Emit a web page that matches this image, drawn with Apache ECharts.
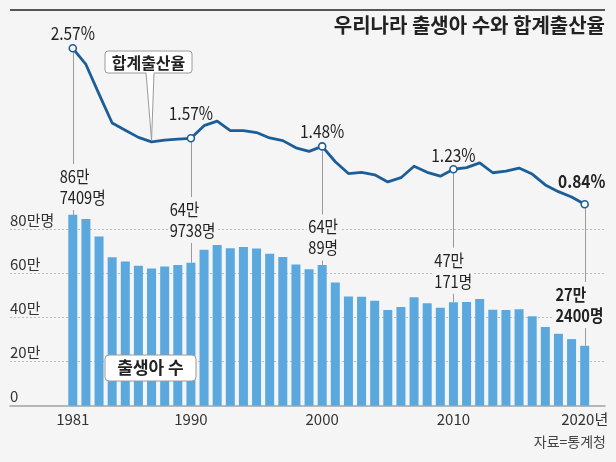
<!DOCTYPE html>
<html>
<head>
<meta charset="utf-8">
<script src="https://cdn.jsdelivr.net/npm/echarts@6/dist/echarts.min.js"></script>
<style>
html,body{margin:0;padding:0;background:#f5f5f5;}
#c{width:616px;height:462px;}
</style>
</head>
<body>
<div id="c"></div>
<script>
// ---- data ----
const years = [1981,1982,1983,1984,1985,1986,1987,1988,1989,1990,
               1991,1992,1993,1994,1995,1996,1997,1998,1999,2000,
               2001,2002,2003,2004,2005,2006,2007,2008,2009,2010,
               2011,2012,2013,2014,2015,2016,2017,2018,2019,2020];
const births = [867409,848312,769155,674793,655489,636019,623831,633092,639431,649738,
                709275,730678,715826,721185,715020,691226,675394,641594,620668,640089,
                559934,496911,495036,476958,435031,448153,493189,465892,444849,470171,
                471265,484550,436455,435435,438420,406243,357771,326822,302676,272400];
const tfr = [2.57,2.39,2.06,1.74,1.66,1.58,1.53,1.55,1.56,1.57,
             1.71,1.76,1.654,1.656,1.634,1.574,1.544,1.464,1.425,1.48,
             1.309,1.178,1.191,1.164,1.085,1.132,1.259,1.192,1.149,1.226,
             1.244,1.297,1.187,1.205,1.239,1.172,1.052,0.977,0.918,0.837];
const xTickYears = [1981,1990,2000,2010,2020];
const yTickValues = [0,200000,400000,600000,800000];
const highlightYears = [1981,1990,2000,2010,2020];
const titleText = '우리나라 출생아 수와 합계출산율';
const sourceText = '자료=통계청';
const lineLegend = '합계출산율';
const barLegend = '출생아 수';
const pointerYear = 1987;

// ---- styles ----
const KR_FONT = "'Noto Sans CJK KR',sans-serif";
const BAR_COLOR = '#5aa8de';
const LINE_COLOR = '#1c5e98';
const BG = '#f5f5f5';
const NARROW = 0.86;
const tfrLabelStyle = {
  1981:{dy:-15, bold:false, dx:0},
  1990:{dy:-25, bold:false, dx:0},
  2000:{dy:-15, bold:false, dx:0},
  2010:{dy:-14, bold:false, dx:0},
  2020:{dy:-23, bold:true, dx:-3}
};
const countLabelStyle = {
  1981:{dx:-14.8, dy:-50.9, bold:false},
  1990:{dx:-23, dy:-65.8, bold:false},
  2000:{dx:-15.6, dy:-50.5, bold:false},
  2010:{dx:-20.8, dy:-54.5, bold:false},
  2020:{dx:-31, dy:-63.7, bold:true}
};

const chart = echarts.init(document.getElementById('c'), null, {renderer:'canvas'});

const barData = years.map((y,i)=>[y, births[i]]);
const lineData = years.map((y,i)=>({
  value:[y, tfr[i]],
  symbol: highlightYears.indexOf(y) >= 0 ? 'circle' : 'none'
}));

const splitColors = ['rgba(0,0,0,0)','#bdbdbd','#bdbdbd','#bdbdbd','#bdbdbd',
                     'rgba(0,0,0,0)','rgba(0,0,0,0)','rgba(0,0,0,0)','rgba(0,0,0,0)','rgba(0,0,0,0)'];

chart.setOption({
  backgroundColor: BG,
  animation:false,
  grid:{left:10, right:11, top:9.7, bottom:56.3, containLabel:false, outerBoundsMode:'none'},
  title:[{
    text:titleText, right:11, top:15, padding:0,
    textStyle:{fontFamily:KR_FONT, fontSize:20, fontWeight:'bold', color:'#222'}
  },{
    text:sourceText, right:10, top:435, padding:0,
    textStyle:{fontFamily:KR_FONT, fontSize:14, fontWeight:'normal', color:'#444'}
  }],
  xAxis:{
    type:'value', min:1976.216, max:2021.547,
    axisLine:{show:true, onZero:false, lineStyle:{color:'#a3a3a3', width:1.5}},
    axisTick:{show:false},
    splitLine:{show:false},
    axisLabel:{
      customValues:xTickYears, margin:6,
      formatter: v => (v === xTickYears[xTickYears.length-1] ? v + '년' : String(v)),
      fontFamily:KR_FONT, fontSize:15, color:'#333'
    }
  },
  yAxis:[{
    type:'value', min:0, max:1800000, interval:200000,
    axisLine:{show:false}, axisTick:{show:false},
    splitLine:{show:true, lineStyle:{color:splitColors, type:[2,2], width:1}},
    axisLabel:{
      customValues:yTickValues, inside:true, margin:0, verticalAlign:'bottom',
      padding:[0,0,2,0],
      formatter: v => v === 0 ? '0' : (v === yTickValues[yTickValues.length-1] ? (v/10000)+'만명' : (v/10000)+'만'),
      fontFamily:KR_FONT, fontSize:15, color:'#333'
    }
  },{
    type:'value', min:-1.4017, max:2.9989, show:false,
    splitLine:{show:false}
  }],
  series:[{
    type:'bar', data:barData, xAxisIndex:0, yAxisIndex:0,
    barWidth:9, itemStyle:{color:BAR_COLOR}, z:2
  },{
    type:'line', data:lineData, xAxisIndex:0, yAxisIndex:1,
    symbolSize:7, itemStyle:{color:'#fff', borderColor:LINE_COLOR, borderWidth:1.6},
    lineStyle:{color:LINE_COLOR, width:2.8, join:'round', cap:'round'},
    z:5
  }]
});

// ---- annotations placed through the chart's own scales ----
const els = [];
els.push({type:'line', shape:{x1:10, y1:10, x2:605, y2:10}, style:{stroke:'#555', lineWidth:2}, z:10, silent:true});

highlightYears.forEach(yr => {
  const i = years.indexOf(yr);
  const p = chart.convertToPixel({seriesIndex:1}, [yr, tfr[i]]);
  const b = chart.convertToPixel({seriesIndex:0}, [yr, births[i]]);
  const x = Math.round(p[0]) + 0.5;
  els.push({type:'line', shape:{x1:x, y1:p[1]+4, x2:x, y2:b[1]},
            style:{stroke:'#9a9a9a', lineWidth:1}, z:1, silent:true});
  // TFR value label
  const t = tfrLabelStyle[yr];
  els.push({type:'text', z:20, silent:true, x:p[0]+t.dx, y:p[1]+t.dy, scaleX:NARROW,
    style:{text:tfr[i].toFixed(2) + '%', x:0, y:0, align:'center', verticalAlign:'middle',
      font:(t.bold?'bold ':'') + '18px ' + KR_FONT, fill:'#222'}});
  // births label
  const s = countLabelStyle[yr];
  const v = births[i];
  const txt = Math.floor(v/10000) + '만\n' + (v % 10000) + '명';
  els.push({type:'text', z:20, silent:true, x:p[0]+s.dx, y:b[1]+s.dy, scaleX:NARROW,
    style:{text:txt, x:0, y:0,
      font:(s.bold?'bold ':'') + '17px ' + KR_FONT, fill:'#222',
      lineHeight:21, align:'left', verticalAlign:'top',
      backgroundColor:BG, padding:[2,2,2,2]}});
});

const pp = chart.convertToPixel({seriesIndex:1}, [pointerYear, tfr[years.indexOf(pointerYear)]]);
els.push({type:'polygon', z:21, silent:true,
  shape:{points:[[146,72.5],[pp[0],pp[1]-1.5],[154,72.5]]},
  style:{fill:'#fff', stroke:'#9a9a9a', lineWidth:1}});
els.push({type:'rect', z:22, silent:true,
  shape:{x:105, y:51, width:87, height:22, r:3},
  style:{fill:'#fff', stroke:'#9a9a9a', lineWidth:1}});
els.push({type:'rect', z:23, silent:true,
  shape:{x:146.5, y:71, width:7, height:3},
  style:{fill:'#fff'}});
els.push({type:'text', z:24, silent:true,
  style:{text:lineLegend, x:148.5, y:62.5, align:'center', verticalAlign:'middle',
    font:'bold 16px ' + KR_FONT, fill:'#222'}});

els.push({type:'rect', z:22, silent:true,
  shape:{x:105, y:355, width:91, height:26, r:4},
  style:{fill:'#fff', stroke:'#9a9a9a', lineWidth:1}});
els.push({type:'text', z:24, silent:true,
  style:{text:barLegend, x:150.5, y:368, align:'center', verticalAlign:'middle',
    font:'bold 17px ' + KR_FONT, fill:'#222'}});

chart.setOption({graphic:{elements:els}});
</script>
</body>
</html>
